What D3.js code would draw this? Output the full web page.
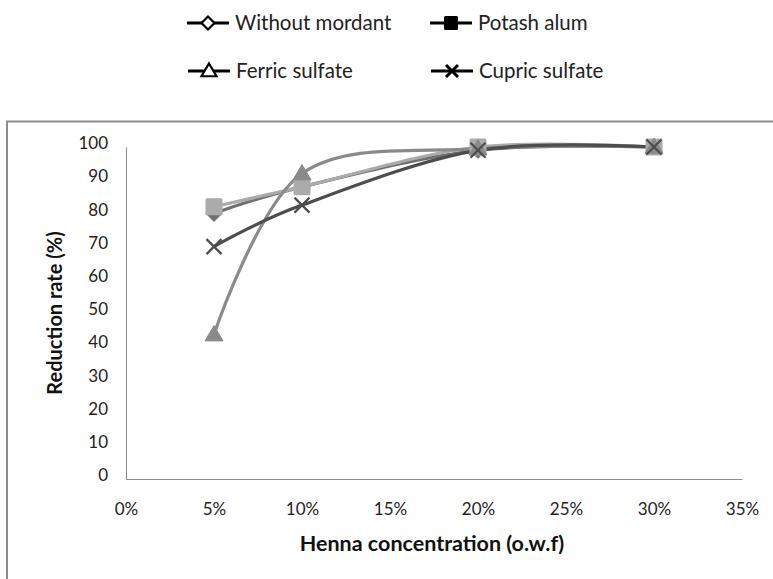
<!DOCTYPE html>
<html>
<head>
<meta charset="utf-8">
<script src="https://cdn.jsdelivr.net/npm/d3@7"></script>
<style>
  body { margin: 0; background: #fff; }
  svg { display: block; font-family: Lato, "Open Sans", sans-serif; }
</style>
</head>
<body>
<svg id="chart" width="773" height="579"></svg>
<script>
// Henna concentration levels (fraction of fibre weight)
const concentrations = [0.05, 0.10, 0.20, 0.30];

// Reduction rate (%) per mordant treatment
const withoutMordant = [80, 88, 99, 100];
const potashAlum     = [82, 88, 100, 100];
const ferricSulfate  = [43.5, 92, 99.5, 100];
const cupricSulfate  = [70, 82.5, 99, 100];

const seriesNames = ["Without mordant", "Potash alum", "Ferric sulfate", "Cupric sulfate"];
const seriesValues = [withoutMordant, potashAlum, ferricSulfate, cupricSulfate];
const seriesColors = ["#6f6f6f", "#ababab", "#8a8a8a", "#4d4d4d"];
const seriesMarkers = ["diamond", "square", "triangle", "cross"];

const xTicks = [0, 0.05, 0.10, 0.15, 0.20, 0.25, 0.30, 0.35];
const yTicks = [0, 10, 20, 30, 40, 50, 60, 70, 80, 90, 100];

const svg = d3.select("#chart");

// outer chart frame
svg.append("path")
  .attr("d", "M7,579 V121.5 H773")
  .attr("fill", "none")
  .attr("stroke", "#8c8c8c")
  .attr("stroke-width", 2);

const x = d3.scaleLinear().domain([0, 0.35]).range([126, 742]);
const y = d3.scaleLinear().domain([0, 100]).range([479, 147]);

// axes
const xAxis = svg.append("g")
  .attr("transform", `translate(0,${y(0)})`)
  .call(d3.axisBottom(x).tickValues(xTicks).tickFormat(d3.format(".0%")).tickSize(0).tickPadding(27));
const yAxis = svg.append("g")
  .attr("transform", `translate(${x(0)},0)`)
  .call(d3.axisLeft(y).tickValues(yTicks).tickSize(0).tickPadding(18));

[xAxis, yAxis].forEach(g => {
  g.select(".domain").attr("stroke", "#8c8c8c").attr("stroke-width", 1);
  g.selectAll("text")
    .attr("font-family", "Lato, sans-serif")
    .attr("font-size", 17)
    .attr("fill", "#222");
});
yAxis.selectAll("text").attr("dy", "0.1em");
xAxis.selectAll("text").attr("dy", "0.5em");

// axis titles, centred on the plot area
svg.append("text")
  .attr("x", (x(0) + x(0.35)) / 2 - 2)
  .attr("y", 551)
  .attr("text-anchor", "middle")
  .attr("font-size", 21.5)
  .attr("font-weight", "bold")
  .attr("fill", "#111")
  .text("Henna concentration (o.w.f)");

svg.append("text")
  .attr("transform", `translate(62,${(y(0) + y(100)) / 2}) rotate(-90)`)
  .attr("text-anchor", "middle")
  .attr("font-size", 20)
  .attr("font-weight", "bold")
  .attr("fill", "#111")
  .text("Reduction rate (%)");

// smoothed series lines
const line = d3.line()
  .x((d, i) => x(concentrations[i]))
  .y(d => y(d))
  .curve(d3.curveCatmullRom.alpha(0));

const plot = svg.append("g");
seriesValues.forEach((vals, s) => {
  plot.append("path")
    .datum(vals)
    .attr("d", line)
    .attr("fill", "none")
    .attr("stroke", seriesColors[s])
    .attr("stroke-width", 3.2);
});

function drawMarker(g, type, cx, cy, color, legend) {
  if (type === "diamond") {
    const r = legend ? 6.5 : 8;
    g.append("path")
      .attr("d", `M${cx},${cy - r}L${cx + r},${cy}L${cx},${cy + r}L${cx - r},${cy}Z`)
      .attr("fill", legend ? "#fff" : color)
      .attr("stroke", legend ? "#000" : color)
      .attr("stroke-width", legend ? 2.2 : 1);
  } else if (type === "square") {
    const r = legend ? 7 : 8.5;
    g.append("rect")
      .attr("x", cx - r).attr("y", cy - r)
      .attr("width", 2 * r).attr("height", 2 * r)
      .attr("rx", 1.5)
      .attr("fill", legend ? "#000" : color);
  } else if (type === "triangle") {
    const r = legend ? 7.5 : 9;
    g.append("path")
      .attr("d", `M${cx},${cy - r}L${cx + r},${cy + r * 0.7}L${cx - r},${cy + r * 0.7}Z`)
      .attr("fill", legend ? "#fff" : color)
      .attr("stroke", legend ? "#000" : color)
      .attr("stroke-width", legend ? 2.2 : 1);
  } else {
    const r = legend ? 6 : 7.5;
    g.append("path")
      .attr("d", `M${cx - r},${cy - r}L${cx + r},${cy + r}M${cx - r},${cy + r}L${cx + r},${cy - r}`)
      .attr("stroke", legend ? "#000" : color)
      .attr("stroke-width", legend ? 3 : 2.2);
  }
}

// data markers
seriesValues.forEach((vals, s) => {
  vals.forEach((v, i) => drawMarker(plot, seriesMarkers[s], x(concentrations[i]), y(v), seriesColors[s], false));
});

// legend in two rows of two
const legendPos = [[208, 23], [451, 23], [209, 71], [452, 71]];
seriesNames.forEach((name, s) => {
  const [lx, ly] = legendPos[s];
  const g = svg.append("g");
  g.append("line")
    .attr("x1", lx - 21).attr("x2", lx + 21)
    .attr("y1", ly).attr("y2", ly)
    .attr("stroke", "#000").attr("stroke-width", 3);
  drawMarker(g, seriesMarkers[s], lx, ly, "#000", true);
  g.append("text")
    .attr("x", lx + 27)
    .attr("y", ly)
    .attr("dy", "0.35em")
    .attr("font-size", 20.5)
    .attr("fill", "#222")
    .text(name);
});
</script>
</body>
</html>
